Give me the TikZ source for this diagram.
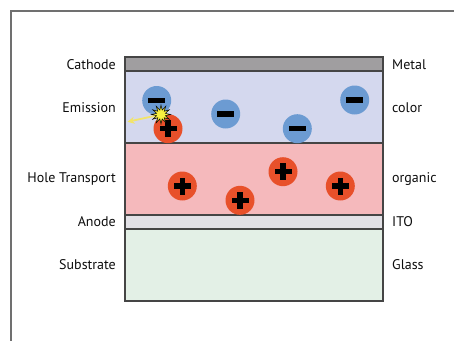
\documentclass[tikz,border=0pt]{standalone}
\usepackage{fontspec}
\setmainfont{PT Sans}
\usetikzlibrary{arrows.meta,shapes.geometric}
\definecolor{cathodec}{HTML}{A09EA0}
\definecolor{emissc}{HTML}{D4D8EE}
\definecolor{holec}{HTML}{F5B9BC}
\definecolor{anodec}{HTML}{E2E1E6}
\definecolor{substc}{HTML}{E3F0E6}
\definecolor{elecc}{HTML}{6C9BD2}
\definecolor{posc}{HTML}{E8502A}
\definecolor{edgec}{HTML}{454545}
\definecolor{framec}{HTML}{707070}
\definecolor{sparkc}{HTML}{F8F040}
\definecolor{arrowc}{HTML}{F2E46A}
\tikzset{
  layer/.style={draw=edgec, line width=1.1pt},
  lbl/.style={font=\fontsize{14}{16}\selectfont, text=black!95, inner sep=0pt},
  lleft/.style={lbl, anchor=east},
  lright/.style={lbl, anchor=west},
  electron/.style={circle, fill=elecc, minimum size=29pt, inner sep=0pt, path picture={
      \fill[black] ([xshift=-8.5pt,yshift=-2.7pt]path picture bounding box.center) rectangle ++(17pt,5.4pt);}},
  hole/.style={circle, fill=posc, minimum size=29pt, inner sep=0pt, path picture={
      \fill[black] ([xshift=-8.5pt,yshift=-2.7pt]path picture bounding box.center) rectangle ++(17pt,5.4pt);
      \fill[black] ([xshift=-2.7pt,yshift=-8.5pt]path picture bounding box.center) rectangle ++(5.4pt,17pt);}},
  spark/.style={star, star points=12, star point ratio=2.1, minimum size=19pt, inner sep=0pt,
      fill=sparkc, draw=black, line width=0.5pt},
}
\begin{document}
\begin{tikzpicture}[x=1pt,y=-1pt]
\useasboundingbox (0,0) rectangle (454,340);
% frame
\draw[framec, line width=2pt] (11,341) -- (11,11) -- (455,11);
% layers
\fill[cathodec] (125,57) rectangle (383,71);
\fill[emissc] (125,71) rectangle (383,143);
\fill[holec] (125,143) rectangle (383,215);
\fill[anodec] (125,215) rectangle (383,229);
\fill[substc] (125,229) rectangle (383,301);
\draw[layer] (125,57) rectangle (383,301);
\draw[layer] (125,71) -- (383,71);
\draw[layer] (125,143) -- (383,143);
\draw[layer] (125,215) -- (383,215);
\draw[layer] (125,229) -- (383,229);
% labels
\node[lleft] (lcat) at (116,65) {Cathode};
\node[lleft] (lemi) at (116,108) {Emission};
\node[lleft] (lhol) at (116,179) {Hole Transport};
\node[lleft] (lano) at (116,222) {Anode};
\node[lleft] (lsub) at (116,265) {Substrate};
\node[lright] (rmet) at (392,65) {Metal};
\node[lright] (rcol) at (392,108) {color};
\node[lright] (rorg) at (392,179) {organic};
\node[lright] (rito) at (392,222) {ITO};
\node[lright] (rgla) at (392,265) {Glass};
% charges
\node[electron] (e1) at (156.7,100.5) {};
\node[electron] (e2) at (225.7,114) {};
\node[electron] (e3) at (297.3,128.7) {};
\node[electron] (e4) at (354.7,100) {};
\node[hole] (h1) at (168,128.7) {};
\node[hole] (h2) at (182.3,186) {};
\node[hole] (h3) at (240,200.3) {};
\node[hole] (h4) at (283,171.7) {};
\node[hole] (h5) at (340.3,186) {};
% photon arrow
\coordinate (ray) at (127.5,121.8);
\draw[arrowc, line width=1.8pt, -{Stealth[length=7pt,width=7pt]}] (161,114.5) -- (ray);
\node[spark] (sp) at (161,114.5) {};
\end{tikzpicture}
\end{document}
